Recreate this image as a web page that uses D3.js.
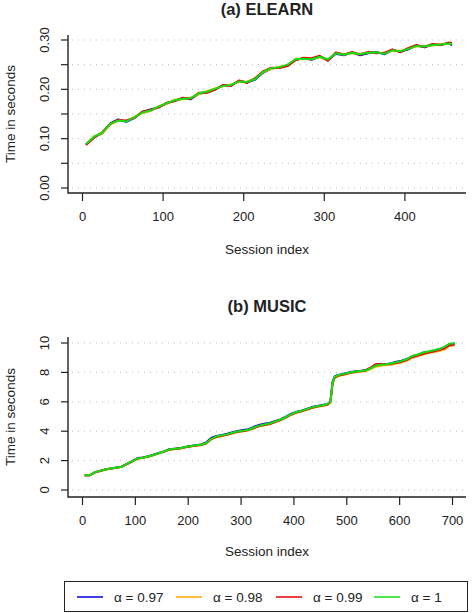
<!DOCTYPE html>
<html lang="en">
<head>
	<meta charset="UTF-8">
	<title>session time</title>
	<script src="https://d3js.org/d3.v7.min.js"></script>
	<style>
		body { margin: 0; background: #fff; }
		text { font-family: "Liberation Sans", Arial, sans-serif; fill: #222; }
	</style>
</head>
<body>
	<script type="text/javascript">
		// (a) ELEARN
		var elearnSessions = [5,15,25,35,45,55,65,75,85,95,105,115,125,135,145,155,165,175,185,195,205,215,225,235,245,255,265,275,285,295,305,315,325,335,345,355,365,375,385,395,405,415,425,435,445,455,459];
		var elearnA097 = [0.088,0.103,0.111,0.131,0.139,0.134,0.142,0.154,0.159,0.164,0.171,0.177,0.182,0.180,0.191,0.194,0.200,0.208,0.208,0.217,0.214,0.220,0.234,0.242,0.244,0.249,0.260,0.263,0.260,0.267,0.259,0.272,0.269,0.275,0.269,0.273,0.276,0.271,0.280,0.276,0.281,0.289,0.285,0.291,0.290,0.294,0.289];
		var elearnA098 = [0.088,0.105,0.110,0.129,0.136,0.136,0.144,0.152,0.156,0.166,0.170,0.179,0.180,0.183,0.190,0.196,0.202,0.206,0.210,0.215,0.216,0.222,0.235,0.241,0.246,0.248,0.262,0.261,0.262,0.265,0.260,0.274,0.271,0.273,0.272,0.275,0.274,0.273,0.278,0.278,0.283,0.287,0.288,0.289,0.292,0.292,0.293];
		var elearnA099 = [0.087,0.102,0.113,0.130,0.138,0.137,0.142,0.155,0.158,0.163,0.173,0.176,0.183,0.181,0.193,0.193,0.199,0.209,0.207,0.218,0.213,0.223,0.237,0.244,0.243,0.247,0.259,0.264,0.263,0.268,0.258,0.275,0.270,0.276,0.270,0.276,0.273,0.274,0.281,0.275,0.284,0.290,0.286,0.292,0.290,0.295,0.294];
		var elearnA1 = [0.089,0.104,0.112,0.130,0.137,0.135,0.143,0.153,0.157,0.165,0.172,0.178,0.181,0.182,0.192,0.195,0.201,0.207,0.209,0.216,0.215,0.221,0.236,0.243,0.245,0.250,0.261,0.262,0.261,0.266,0.261,0.273,0.270,0.274,0.271,0.274,0.275,0.272,0.279,0.277,0.282,0.288,0.287,0.290,0.291,0.293,0.292];
		var elearnXTicks = [0,100,200,300,400];
		var elearnYTicks = [0,0.05,0.10,0.15,0.20,0.25,0.30];
		var elearnYLabels = [0,0.10,0.20,0.30];

		// (b) MUSIC
		var musicSessions = [5,15,25,35,45,55,65,75,85,95,105,115,125,135,145,155,165,175,185,195,205,215,225,235,245,255,265,275,285,295,305,315,325,335,345,355,365,375,385,395,405,415,425,435,445,455,465,470,474,478,485,495,505,515,525,535,545,555,565,575,585,595,605,615,625,635,645,655,665,675,685,695,705];
		var musicA097 = [1.00,1.01,1.21,1.31,1.41,1.47,1.53,1.59,1.77,1.96,2.17,2.22,2.30,2.40,2.52,2.63,2.77,2.81,2.85,2.93,3.00,3.05,3.10,3.24,3.55,3.68,3.75,3.83,3.93,4.02,4.08,4.14,4.30,4.42,4.50,4.56,4.68,4.80,4.98,5.17,5.31,5.40,5.52,5.64,5.72,5.78,5.86,6.05,7.35,7.72,7.83,7.91,7.99,8.06,8.10,8.14,8.28,8.48,8.55,8.56,8.62,8.72,8.80,8.92,9.10,9.20,9.33,9.40,9.48,9.57,9.70,9.92,9.96];
		var musicA098 = [0.99,1.00,1.20,1.29,1.39,1.46,1.51,1.57,1.76,1.93,2.13,2.18,2.26,2.36,2.48,2.60,2.74,2.78,2.82,2.89,2.95,3.01,3.05,3.16,3.45,3.60,3.67,3.75,3.86,3.94,4.00,4.06,4.20,4.33,4.40,4.47,4.60,4.72,4.90,5.10,5.25,5.34,5.46,5.58,5.66,5.72,5.80,5.95,7.20,7.62,7.75,7.84,7.93,8.00,8.05,8.08,8.20,8.38,8.45,8.50,8.52,8.60,8.68,8.80,9.00,9.10,9.22,9.30,9.38,9.45,9.55,9.80,9.85];
		var musicA099 = [1.00,1.01,1.21,1.30,1.40,1.47,1.51,1.58,1.77,1.94,2.14,2.19,2.27,2.37,2.49,2.61,2.75,2.79,2.83,2.90,2.96,3.02,3.06,3.18,3.48,3.62,3.69,3.77,3.88,3.96,4.02,4.08,4.22,4.35,4.42,4.49,4.62,4.75,4.92,5.12,5.27,5.36,5.48,5.60,5.68,5.74,5.82,5.98,7.25,7.65,7.78,7.86,7.95,8.02,8.07,8.10,8.30,8.55,8.58,8.55,8.58,8.66,8.72,8.85,9.05,9.15,9.27,9.35,9.42,9.52,9.62,9.85,9.90];
		var musicA1 = [1.00,1.02,1.22,1.30,1.40,1.48,1.52,1.58,1.78,1.95,2.15,2.20,2.28,2.38,2.50,2.62,2.76,2.80,2.84,2.92,2.98,3.04,3.08,3.20,3.50,3.65,3.72,3.80,3.90,3.98,4.04,4.10,4.25,4.38,4.45,4.52,4.65,4.78,4.95,5.15,5.30,5.38,5.50,5.62,5.70,5.76,5.85,6.00,7.30,7.70,7.82,7.90,7.98,8.05,8.10,8.12,8.25,8.45,8.52,8.55,8.60,8.70,8.78,8.90,9.12,9.22,9.35,9.42,9.50,9.58,9.72,9.95,9.98];
		var musicXTicks = [0,100,200,300,400,500,600,700];
		var musicYTicks = [0,2,4,6,8,10];

		var seriesNames = ["\u03b1 = 0.97", "\u03b1 = 0.98", "\u03b1 = 0.99", "\u03b1 = 1"];
		var seriesColors = ["#0000dd", "#ffa500", "#ee0000", "#11e011"];

		var w = 475, h = 613;
		var svg = d3.select("body").append("svg").attr("width", w).attr("height", h);

		function panel(opt) {
			var g = svg.append("g");
			var x = d3.scaleLinear().domain([0, opt.xTicks[opt.xTicks.length - 1]]).range([82, opt.xEnd]);
			var y = d3.scaleLinear().domain([0, opt.yTicks[opt.yTicks.length - 1]]).range([opt.y0, opt.yTop]);

			// dotted grid
			g.selectAll(".grid").data(opt.yTicks).enter().append("line")
				.attr("x1", 72).attr("x2", 466)
				.attr("y1", function(d){ return y(d); }).attr("y2", function(d){ return y(d); })
				.attr("stroke", "#bbb").attr("stroke-width", 1).attr("stroke-dasharray", "1,5");

			// series
			var line = d3.line().x(function(d){ return x(d[0]); }).y(function(d){ return y(d[1]); });
			opt.series.forEach(function(vals, i) {
				g.append("path")
					.datum(d3.zip(opt.sessions, vals))
					.attr("d", line)
					.attr("fill", "none")
					.attr("stroke", seriesColors[i])
					.attr("stroke-width", 2)
					.attr("stroke-linejoin", "round");
			});

			// L box
			g.append("path")
				.attr("d", "M68," + opt.boxTop + "V" + opt.axisY + "H466")
				.attr("fill", "none").attr("stroke", "#222").attr("stroke-width", 1.4);

			// x axis
			var xa = g.append("g").attr("transform", "translate(0," + opt.axisY + ")")
				.call(d3.axisBottom(x).tickValues(opt.xTicks).tickSize(8).tickPadding(11).tickFormat(d3.format("d")));
			xa.select(".domain").remove();
			xa.selectAll(".tick line").attr("stroke", "#222").attr("stroke-width", 1.2);
			xa.selectAll(".tick text").attr("font-size", "13px").attr("fill", "#222")
				.attr("font-family", "Liberation Sans, Arial, sans-serif");

			// y axis ticks
			g.selectAll(".ytick").data(opt.yTicks).enter().append("line")
				.attr("x1", 61).attr("x2", 68)
				.attr("y1", function(d){ return y(d); }).attr("y2", function(d){ return y(d); })
				.attr("stroke", "#222").attr("stroke-width", 1.2);
			g.selectAll(".ylab").data(opt.yLabels).enter().append("text")
				.attr("transform", function(d){ return "translate(49," + y(d) + ") rotate(-90)"; })
				.attr("text-anchor", "middle").attr("font-size", "13px")
				.text(opt.yFormat);

			// titles
			g.append("text").attr("x", 267).attr("y", opt.titleY).attr("text-anchor", "middle")
				.attr("font-size", "16.5px").attr("font-weight", "bold").text(opt.title);
			g.append("text").attr("x", 267).attr("y", opt.xLabY).attr("text-anchor", "middle")
				.attr("font-size", "13.5px").text("Session index");
			g.append("text").attr("transform", "translate(15," + ((opt.boxTop + opt.axisY) / 2) + ") rotate(-90)")
				.attr("text-anchor", "middle").attr("font-size", "13.5px").text("Time in seconds");
		}

		panel({
			title: "(a) ELEARN", titleY: 15,
			sessions: elearnSessions,
			series: [elearnA097, elearnA098, elearnA099, elearnA1],
			xTicks: elearnXTicks, xEnd: 404.4,
			yTicks: elearnYTicks, yLabels: elearnYLabels, yFormat: d3.format(".2f"),
			y0: 188, yTop: 40, boxTop: 35, axisY: 193, xLabY: 254
		});

		panel({
			title: "(b) MUSIC", titleY: 312,
			sessions: musicSessions,
			series: [musicA097, musicA098, musicA099, musicA1],
			xTicks: musicXTicks, xEnd: 452,
			yTicks: musicYTicks, yLabels: musicYTicks, yFormat: d3.format("d"),
			y0: 490, yTop: 343, boxTop: 337, axisY: 497, xLabY: 556
		});

		// legend
		var leg = svg.append("g");
		leg.append("rect").attr("x", 64.5).attr("y", 581.5).attr("width", 403).attr("height", 30)
			.attr("fill", "none").attr("stroke", "#222").attr("stroke-width", 1);
		var legX = [77, 176, 276, 374];
		leg.selectAll(".li").data(seriesNames).enter().append("g")
			.each(function(d, i) {
				var s = d3.select(this);
				s.append("line").attr("x1", legX[i]).attr("x2", legX[i] + 26)
					.attr("y1", 597).attr("y2", 597)
					.attr("stroke", seriesColors[i]).attr("stroke-width", 1.5);
				s.append("text").attr("x", legX[i] + 37).attr("y", 601.5)
					.attr("font-size", "13.5px").text(d);
			});
	</script>
</body>
</html>
